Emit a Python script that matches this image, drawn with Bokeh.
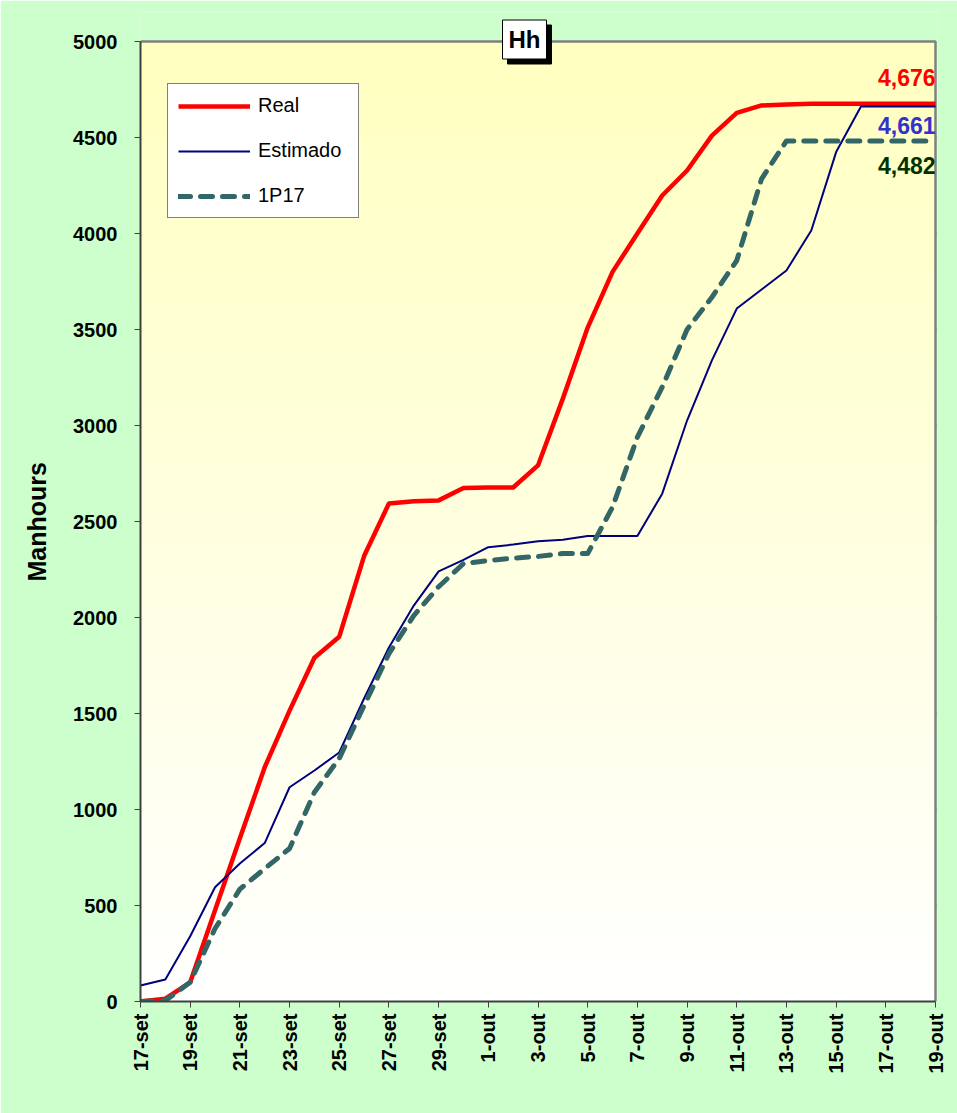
import numpy as np
from bokeh.plotting import figure
from bokeh.models import Range1d, FixedTicker, Legend, LegendItem, Label, Title
from bokeh.core.properties import value
from bokeh.embed import file_html
from bokeh.resources import INLINE

dates = ["17-set", "18-set", "19-set", "20-set", "21-set", "22-set", "23-set", "24-set",
         "25-set", "26-set", "27-set", "28-set", "29-set", "30-set",
         "1-out", "2-out", "3-out", "4-out", "5-out", "6-out", "7-out", "8-out", "9-out",
         "10-out", "11-out", "12-out", "13-out", "14-out", "15-out", "16-out", "17-out",
         "18-out", "19-out"]

real = [0, 15, 100, 475, 850, 1220, 1515, 1790, 1900, 2320, 2594, 2605, 2610, 2675,
        2677, 2677, 2792, 3140, 3510, 3800, 4000, 4198, 4328, 4510, 4628, 4667, 4672,
        4676, 4676, 4676, 4676, 4676, 4676]

estimado = [83, 115, 340, 595, 719, 825, 1116, 1203, 1297, 1578, 1844, 2062, 2240, 2300,
            2366, 2380, 2397, 2405, 2424, 2424, 2424, 2645, 3026, 3339, 3609, 3708, 3807,
            4016, 4424, 4661, 4661, 4661, 4661]

p1p17 = [0, 5, 100, 380, 585, 692, 797, 1090, 1266, 1542, 1812, 2010, 2160, 2281,
         2297, 2309, 2318, 2333, 2333, 2575, 2939, 3200, 3500, 3668, 3859, 4285, 4482,
         4482, 4482, 4482, 4482, 4482, 4482]

y_ticks = [0, 500, 1000, 1500, 2000, 2500, 3000, 3500, 4000, 4500, 5000]
x_tick_idx = [0, 2, 4, 6, 8, 10, 12, 14, 16, 18, 20, 22, 24, 26, 28, 30, 32]

xs = list(range(len(dates)))
FONT = "Liberation Sans"

# geometry (pixels)
W, H = 957, 1113
F_LEFT, F_RIGHT = 140, 937          # frame edges
AREA_RIGHT = 935                    # last category position
AREA_TOP, F_TOP, F_BOTTOM = 41, 12, 1001
x_end = xs[-1] * (F_RIGHT - F_LEFT) / (AREA_RIGHT - F_LEFT)
y_end = y_ticks[-1] * (F_BOTTOM - F_TOP) / (F_BOTTOM - AREA_TOP)

p = figure(width=W, height=H, x_range=Range1d(0, x_end), y_range=Range1d(0, y_end),
           output_backend="svg", toolbar_location=None,
           min_border_left=F_LEFT, min_border_right=W - F_RIGHT,
           min_border_top=F_TOP, min_border_bottom=H - F_BOTTOM)
p.border_fill_color = "#CCFFCC"
p.background_fill_color = "#CCFFCC"
p.outline_line_color = None

# plot-area gradient (yellow top -> white bottom)
n = 240
t = np.linspace(0, 1, n)
img = np.zeros((n, 1), dtype=np.uint32)
view = img.view(dtype=np.uint8).reshape((n, 1, 4))
view[:, 0, 0] = 255
view[:, 0, 1] = 255
view[:, 0, 2] = (255 - 63 * t).astype(np.uint8)
view[:, 0, 3] = 255
p.image_rgba(image=[img], x=xs[0], y=y_ticks[0], dw=xs[-1] - xs[0],
             dh=y_ticks[-1] - y_ticks[0])

# axes & grid
p.xgrid.grid_line_color = None
p.ygrid.grid_line_color = "#A0A0A0"
p.ygrid.grid_line_width = 1
p.ygrid.ticker = FixedTicker(ticks=y_ticks[:-1])
p.ygrid.bounds = (xs[0], xs[-1])

p.yaxis.ticker = FixedTicker(ticks=y_ticks)
p.yaxis.bounds = (y_ticks[0], y_ticks[-1])
p.yaxis.major_label_text_font = FONT
p.yaxis.major_label_text_font_size = "20px"
p.yaxis.major_label_text_font_style = "bold"
p.yaxis.major_label_text_color = "black"
p.yaxis.major_label_standoff = 17
p.yaxis.major_tick_out = 6
p.yaxis.major_tick_in = 0
p.yaxis.minor_tick_line_color = None
p.yaxis.axis_line_color = "#404040"
p.yaxis.axis_line_width = 2
p.yaxis.major_tick_line_color = "#404040"

# y-axis title, placed along the 0-5000 plot area (starts at bottom + offset)
ytitle = Title(text="Manhours", align="left", offset=420, standoff=36,
               vertical_align="top",
               text_font=FONT, text_font_size="25px", text_font_style="bold",
               text_color="black")
p.add_layout(ytitle, "left")

p.xaxis.ticker = FixedTicker(ticks=x_tick_idx)
p.xaxis.bounds = (xs[0], xs[-1])
p.xaxis.major_label_overrides = {i: dates[i] for i in x_tick_idx}
p.xaxis.major_label_orientation = np.pi / 2
p.xaxis.major_label_text_font = FONT
p.xaxis.major_label_text_font_size = "20px"
p.xaxis.major_label_text_font_style = "bold"
p.xaxis.major_label_text_color = "black"
p.xaxis.major_label_standoff = 6
p.xaxis.major_tick_out = 6
p.xaxis.major_tick_in = 0
p.xaxis.minor_tick_line_color = None
p.xaxis.axis_line_color = "#404040"
p.xaxis.axis_line_width = 2
p.xaxis.major_tick_line_color = "#404040"

# plot-area border (top and right)
p.line(x=[xs[0], xs[-1], xs[-1]], y=[y_ticks[-1], y_ticks[-1], y_ticks[0]],
       line_color="#808080", line_width=2.5)

# series
r_real = p.line(xs, real, line_color="#FF0000", line_width=4.5, line_join="round")
r_est = p.line(xs, estimado, line_color="#000080", line_width=2, line_join="round")
r_1p = p.line(xs, p1p17, line_color="#336666", line_width=5, line_dash="12 10",
              line_cap="round", line_join="round")

# end labels
lbl_font = dict(text_font_size="23px", text_font_style="bold", text_align="right",
                text_baseline="middle", text_font=value(FONT))
p.text(x=[xs[-1]], y=[real[-1]], text=[f"{real[-1]:,}"], text_color="#FF0000",
       y_offset=-26, **lbl_font)
p.text(x=[xs[-1]], y=[estimado[-1]], text=[f"{estimado[-1]:,}"], text_color="#3333CC",
       y_offset=19, **lbl_font)
p.text(x=[xs[-1]], y=[p1p17[-1]], text=[f"{p1p17[-1]:,}"], text_color="#003300",
       y_offset=25, **lbl_font)

# legend
legend = Legend(items=[LegendItem(label="Real", renderers=[r_real]),
                       LegendItem(label="Estimado", renderers=[r_est]),
                       LegendItem(label="1P17", renderers=[r_1p])],
                location=(27, 783), orientation="vertical",
                glyph_width=72, glyph_height=20, spacing=22, padding=10,
                label_standoff=8, label_width=90,
                label_text_font=FONT, label_text_font_size="20px",
                label_text_color="black",
                border_line_color="black", border_line_width=1,
                background_fill_color="white", background_fill_alpha=1, margin=0)
p.add_layout(legend)

# title box with shadow
shadow = Label(x=389, y=957, x_units="screen", y_units="screen", text="Hh",
               text_color="black", background_fill_color="black",
               border_line_color="black", padding=6, text_align="center",
               text_baseline="middle", text_font=FONT, text_font_size="24px",
               text_font_style="bold")
title = Label(x=384, y=962, x_units="screen", y_units="screen", text="Hh",
              text_color="black", background_fill_color="white",
              border_line_color="black", border_line_width=1, padding=6,
              text_align="center", text_baseline="middle", text_font=FONT,
              text_font_size="24px", text_font_style="bold")
p.add_layout(shadow)
p.add_layout(title)

open("out.html", "w").write(file_html(p, INLINE))
